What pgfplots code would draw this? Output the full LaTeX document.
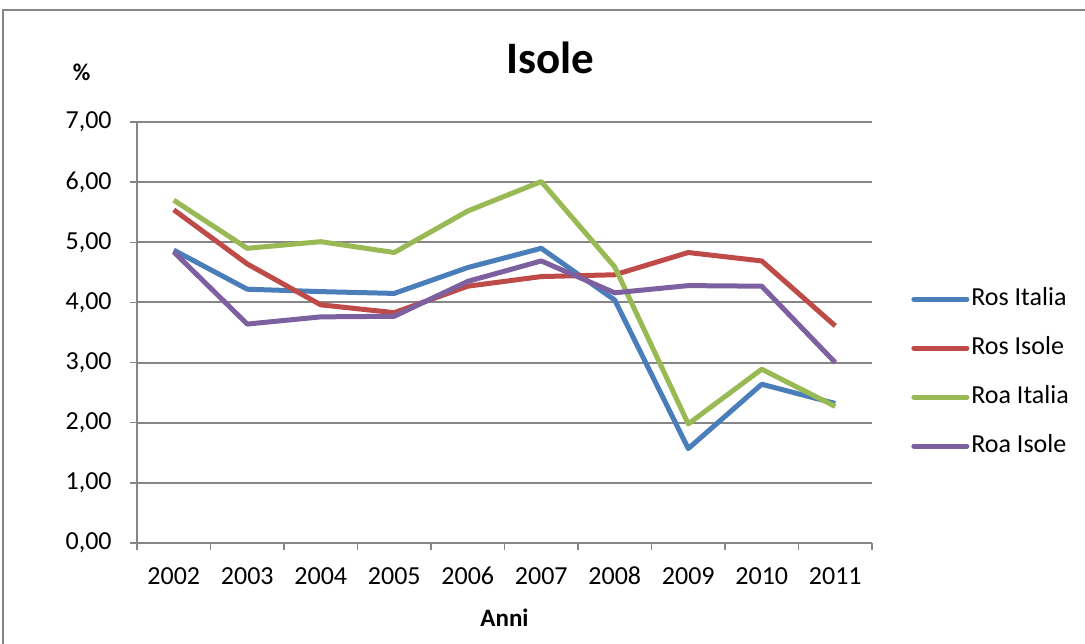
\documentclass[border=0pt]{standalone}
\usepackage{pgfplots}
\pgfplotsset{compat=1.18}
\usepackage{fontspec}
\setmainfont{Carlito}
\definecolor{rosit}{HTML}{4A7EBB}
\definecolor{rosis}{HTML}{BE4B48}
\definecolor{roait}{HTML}{98B954}
\definecolor{roais}{HTML}{7D60A0}
\definecolor{axgray}{HTML}{868686}
\begin{document}
\begin{tikzpicture}
\useasboundingbox (0,0) rectangle (542.5pt,321.5pt);
\draw[axgray, line width=1pt] (1.5pt,-20pt) -- (1.5pt,316.5pt) -- (570pt,316.5pt);
\begin{axis}[
  at={(68.5pt,50pt)}, anchor=south west,
  width=367.5pt, height=210.5pt, scale only axis,
  xmin=-0.5, xmax=9.5, ymin=0, ymax=7,
  axis x line=bottom, axis y line=left,
  axis line style={axgray, line width=1pt, -},
  xtick={-0.5,0.5,1.5,2.5,3.5,4.5,5.5,6.5,7.5,8.5,9.5},
  xticklabels={2002,2003,2004,2005,2006,2007,2008,2009,2010,2011,{}},
  ytick={0,1,2,3,4,5,6,7},
  yticklabel={\pgfmathprintnumber[fixed,fixed zerofill,precision=2,use comma,assume math mode=true]{\tick}},
  tick align=outside, major tick length=3.5pt,
  tick style={axgray, line width=0.75pt},
  ymajorgrids, grid style={axgray, line width=1pt},
  tick label style={font=\fontsize{13}{15}\selectfont, black},
  xticklabel style={xshift=18.375pt, anchor=base, inner sep=0pt, yshift=-17.2pt},
  yticklabel style={anchor=east, inner sep=0pt, xshift=-9pt},
  title={\textbf{Isole}},
  title style={at={(axis description cs:0.562,1.123)}, anchor=center, font=\fontsize{22.5}{26}\selectfont},
  xlabel={\textbf{Anni}},
  xlabel style={at={(axis description cs:0.5,-0.178)}, anchor=center, font=\fontsize{12.5}{15}\selectfont},
  legend style={at={(axis description cs:1.053,0.405)}, anchor=west, draw=none, fill=none,
    inner sep=0pt, font=\fontsize{13}{15}\selectfont,
    nodes={inner sep=0pt, text height=9pt, text depth=3pt},
    row sep=12.5pt, column sep=1pt},
  legend cell align=left,
  legend image code/.code={\draw[#1, line cap=round] (0pt,0pt) -- (26.5pt,0pt);},
  every axis plot/.append style={line width=2.5pt, line join=round, no markers},
  clip=false,
]
\addplot[rosit] coordinates {(0,4.87) (1,4.22) (2,4.18) (3,4.15) (4,4.58) (5,4.90) (6,4.04) (7,1.57) (8,2.64) (9,2.32)};
\addplot[rosis] coordinates {(0,5.54) (1,4.64) (2,3.96) (3,3.83) (4,4.27) (5,4.43) (6,4.46) (7,4.83) (8,4.69) (9,3.61)};
\addplot[roait] coordinates {(0,5.70) (1,4.90) (2,5.01) (3,4.83) (4,5.52) (5,6.01) (6,4.59) (7,1.98) (8,2.89) (9,2.27)};
\addplot[roais] coordinates {(0,4.84) (1,3.64) (2,3.76) (3,3.77) (4,4.35) (5,4.69) (6,4.16) (7,4.28) (8,4.27) (9,3.00)};
\legend{Ros Italia, Ros Isole, Roa Italia, Roa Isole}
\node[font=\fontsize{12}{14}\selectfont\bfseries, anchor=center] at (axis description cs:-0.0755,1.119) {\%};
\end{axis}
\end{tikzpicture}
\end{document}
